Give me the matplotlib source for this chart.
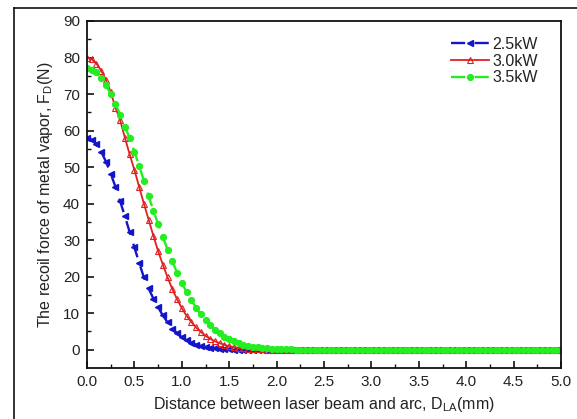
import numpy as np
import matplotlib
matplotlib.use('Agg')
import matplotlib.pyplot as plt
from matplotlib.lines import Line2D

plt.rcParams['font.family'] = ['Liberation Sans', 'DejaVu Sans']

# distance between laser beam and arc (mm), step 0.05
d_la = np.round(np.arange(0, 5.0001, 0.05), 2)

# recoil force F_D (N)
f_25 = [58.0, 57.5, 56.3, 54.2, 51.5, 48.2, 44.6, 40.6, 36.5, 32.2,
        28.0, 23.8, 19.8, 16.8, 14.0, 11.6, 9.4, 7.5, 5.8, 4.5,
        3.4, 2.6, 1.9, 1.4, 1.0, 0.7, 0.5, 0.35, 0.25, 0.17,
        0.1, 0.06, 0.03, 0.02, 0.01]
f_30 = [80.0, 79.5, 78.3, 76.4, 73.9, 70.5, 66.3, 62.8, 58.0, 53.5,
        49.2, 44.6, 40.0, 35.6, 31.2, 27.0, 23.3, 19.8, 16.6, 13.8,
        11.4, 9.3, 7.6, 6.1, 4.9, 3.8, 3.0, 2.3, 1.8, 1.3,
        1.0, 0.7, 0.5, 0.35, 0.25, 0.17, 0.11, 0.07, 0.04, 0.02,
        0.01]
f_35 = [77.0, 76.6, 75.9, 74.4, 72.5, 70.0, 67.3, 64.3, 61.1, 57.9,
        54.2, 50.4, 46.2, 42.0, 38.1, 34.4, 30.9, 27.4, 24.2, 21.1,
        18.3, 15.8, 13.6, 11.5, 9.7, 8.1, 6.7, 5.5, 4.5, 3.6,
        2.9, 2.3, 1.8, 1.4, 1.1, 0.85, 0.65, 0.5, 0.38, 0.28,
        0.2, 0.14, 0.1, 0.07, 0.05, 0.03, 0.02, 0.01]

# beyond the listed points the force is zero
n = len(d_la)
f_25 = np.array(f_25 + [0.0] * (n - len(f_25)))
f_30 = np.array(f_30 + [0.0] * (n - len(f_30)))
f_35 = np.array(f_35 + [0.0] * (n - len(f_35)))

labels = ['2.5kW', '3.0kW', '3.5kW']
txt = '#222222'

fig = plt.figure(figsize=(5.77, 4.19), dpi=100)
ax = fig.add_axes([0.1508, 0.1217, 0.8215, 0.8282])

ax.plot(d_la, f_25, color='#1414c8', ls='--', dashes=(6, 4), lw=1.7,
        marker='<', ms=4.5, label=labels[0])
ax.plot(d_la, f_30, color='#e02020', ls='-', lw=1.3,
        marker='^', ms=4.5, mfc='none', mew=0.8, label=labels[1])
ax.plot(d_la, f_35, color='#22ee22', ls='--', dashes=(6, 4), lw=1.7,
        marker='o', ms=4.2, label=labels[2])

ax.set_xlim(0, 5.0)
ax.set_ylim(-5, 90)
ax.set_xticks(np.arange(0, 5.01, 0.5))
ax.set_xticks(np.arange(0.25, 5.0, 0.5), minor=True)
ax.set_yticks(np.arange(0, 91, 10))
ax.set_yticks(np.arange(5, 90, 10), minor=True)
ax.set_xticklabels([f'{v:.1f}' for v in np.arange(0, 5.01, 0.5)])
ax.tick_params(which='both', direction='in', top=False, right=False,
               labelsize=11, labelcolor=txt, color='#111111')
ax.tick_params(which='major', length=5, width=1.2, pad=5)
ax.tick_params(which='minor', length=3, width=1.0)
for s in ax.spines.values():
    s.set_linewidth(1.3)
    s.set_color('#111111')

ax.set_xlabel('Distance between laser beam and arc, D$_\\mathregular{LA}$(mm)',
              fontsize=11.5, color=txt, labelpad=4)
ax.set_ylabel('The recoil force of metal vapor, F$_\\mathregular{D}$(N)',
              fontsize=11.5, color=txt, labelpad=6)

ax.legend(loc='upper right', frameon=False, fontsize=11.5, numpoints=1,
          handlelength=2.4, handletextpad=0.2, labelspacing=0.1,
          borderaxespad=0.6, bbox_to_anchor=(0.985, 1.0), labelcolor=txt)

# outer frame of the original picture
fig.add_artist(Line2D([14 / 577, 14 / 577], [-0.01, 1 - 8 / 419],
                      transform=fig.transFigure, color='#111111', lw=1.2))
fig.add_artist(Line2D([14 / 577, 1.01], [1 - 8 / 419, 1 - 8 / 419],
                      transform=fig.transFigure, color='#111111', lw=1.2))

fig.savefig('out.png', dpi=100)
